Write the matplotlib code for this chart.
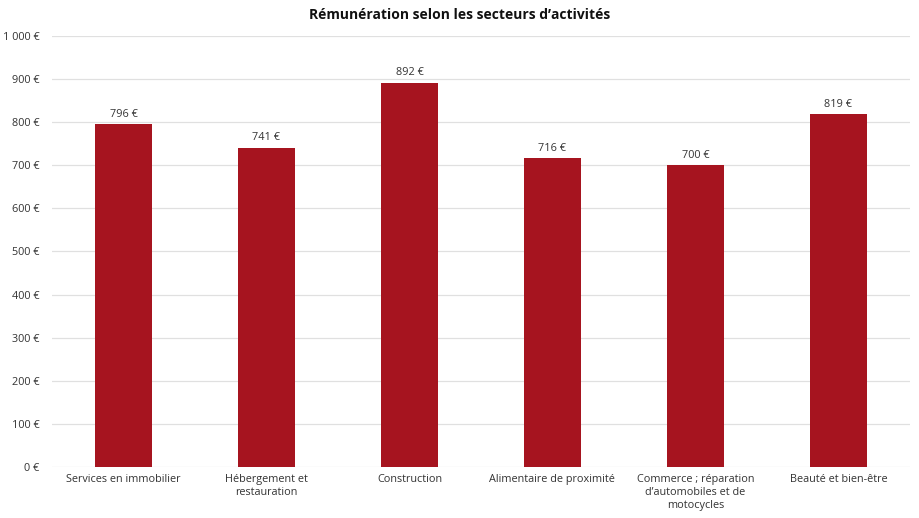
import matplotlib
matplotlib.use('Agg')
import matplotlib.pyplot as plt
import numpy as np

# Data
categories = ['Services en immobilier', 'Hébergement et\nrestauration', 'Construction',
              'Alimentaire de proximité', 'Commerce ; réparation\nd’automobiles et de\nmotocycles',
              'Beauté et bien-être']
values = [796, 741, 892, 716, 700, 819]
yticks = [0, 100, 200, 300, 400, 500, 600, 700, 800, 900, 1000]
ytick_labels = ['0 €', '100 €', '200 €', '300 €', '400 €', '500 €', '600 €', '700 €',
                '800 €', '900 €', '1 000 €']

plt.rcParams['font.family'] = ['Open Sans', 'DejaVu Sans']

fig = plt.figure(figsize=(9.2, 5.18), dpi=100)
ax = fig.add_axes([0.0565, 0.0985, 0.9325, 0.832])

x = np.arange(len(categories))
bars = ax.bar(x, values, width=0.4, color='#A6141F', zorder=3)
for b, v in zip(bars, values):
    ax.text(b.get_x() + b.get_width() / 2, v + 10, f'{v} €', ha='center', va='bottom',
            fontsize=7.8, color='#333333')

ax.set_xlim(-0.5, len(categories) - 0.5)
ax.set_ylim(0, 1000)
ax.set_yticks(yticks)
ax.set_yticklabels(ytick_labels, fontsize=7.8, color='#333333')
ax.set_xticks(x)
ax.set_xticklabels(categories, fontsize=7.8, color='#333333', linespacing=1.25)
ax.tick_params(axis='both', length=0, pad=5)
ax.tick_params(axis='y', pad=9)
ax.yaxis.grid(True, color='#e0e0e0', linewidth=0.9, zorder=0)
for s in ax.spines.values():
    s.set_visible(False)

fig.suptitle('Rémunération selon les secteurs d’activités', y=0.985, fontsize=10,
             fontweight='bold', color='#111111')

fig.savefig('out.png', dpi=100)
